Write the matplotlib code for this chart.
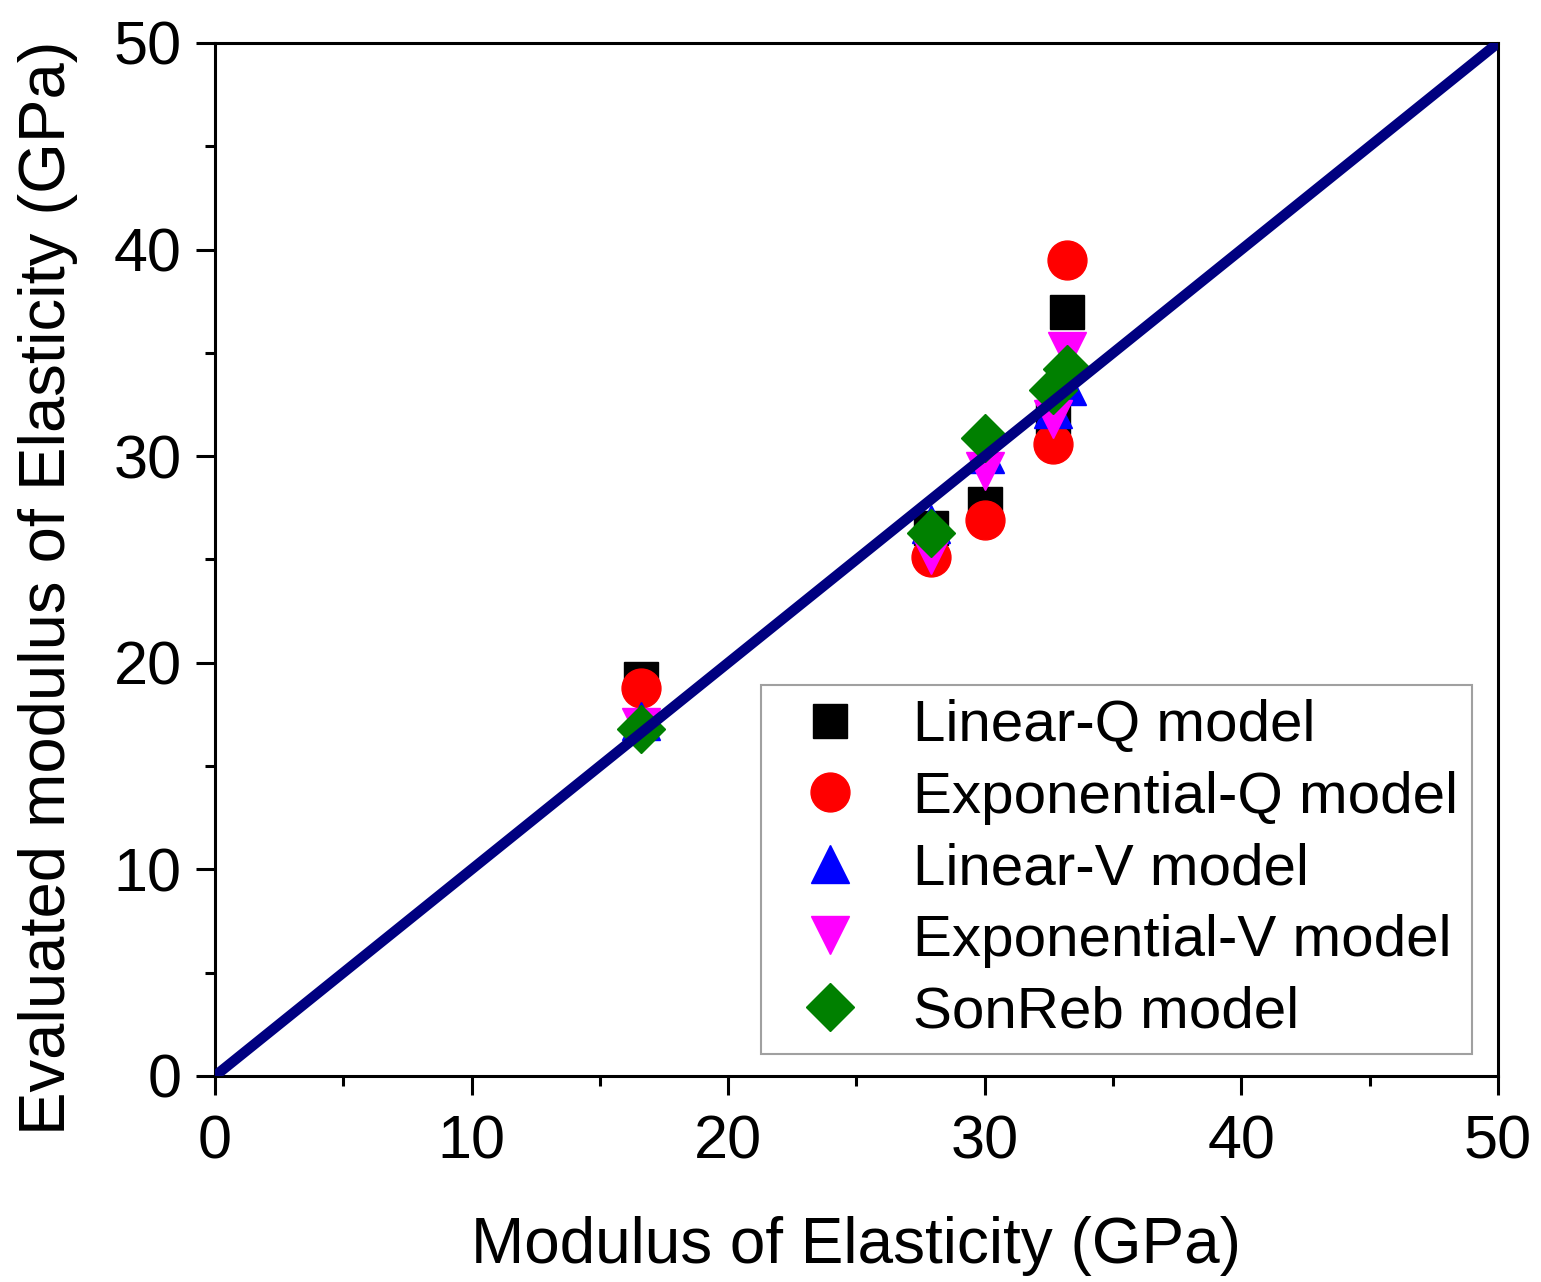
import numpy as np
import matplotlib.pyplot as plt
import matplotlib as mpl
from matplotlib.ticker import MultipleLocator

mpl.rcParams["font.family"] = ["Liberation Sans", "DejaVu Sans"]

# measured modulus (GPa)
measured = [16.6, 27.9, 30.0, 32.66, 33.2]

# evaluated modulus per model (GPa)
linear_q = [19.2, 26.5, 27.7, 31.9, 37.0]
exp_q = [18.8, 25.1, 26.9, 30.6, 39.5]
linear_v = [17.2, 26.7, 30.1, 32.3, 33.4]
exp_v = [16.9, 25.2, 29.3, 31.8, 35.1]
sonreb = [16.8, 26.3, 30.9, 33.2, 34.2]

labels = ["Linear-Q model", "Exponential-Q model", "Linear-V model",
          "Exponential-V model", "SonReb model"]

fig = plt.figure(figsize=(15.41, 12.82), dpi=100)
ax = fig.add_axes([0.1395, 0.1607, 0.8326, 0.8058])

ax.plot(measured, linear_q, "s", color="black", ms=25, ls="none",
        label=labels[0], zorder=3)
ax.plot(measured, exp_q, "o", color="red", ms=28, ls="none",
        label=labels[1], zorder=4)
ax.plot(measured, linear_v, "^", color="blue", ms=28, ls="none",
        label=labels[2], zorder=5)
ax.plot(measured, exp_v, "v", color="magenta", ms=28, ls="none",
        label=labels[3], zorder=6)
ax.plot(measured, sonreb, "D", color="green", ms=24, ls="none",
        label=labels[4], zorder=7)

# 1:1 line
ax.plot([0, 50], [0, 50], color="#000080", lw=7.5, zorder=10,
        solid_capstyle="butt")

ax.set_xlim(0, 50)
ax.set_ylim(0, 50)

ax.xaxis.set_major_locator(MultipleLocator(10))
ax.xaxis.set_minor_locator(MultipleLocator(5))
ax.yaxis.set_major_locator(MultipleLocator(10))
ax.yaxis.set_minor_locator(MultipleLocator(5))

ax.tick_params(which="both", direction="out", width=2.2, top=False,
               right=False, labelsize=44, colors="black")
ax.tick_params(which="major", length=14)
ax.tick_params(axis="x", which="major", pad=14)
ax.tick_params(axis="y", which="major", pad=10)
ax.tick_params(which="minor", length=7)

for sp in ax.spines.values():
    sp.set_linewidth(2.2)

ax.set_xlabel("Modulus of Elasticity (GPa)", fontsize=46, labelpad=32)
ax.set_ylabel("Evaluated modulus of Elasticity (GPa)", fontsize=47)
ax.yaxis.set_label_coords(-0.107, 0.473)

leg = ax.legend(loc="lower right", bbox_to_anchor=(0.98, 0.0213),
                fontsize=42, frameon=True, fancybox=False, numpoints=1,
                borderpad=0.25, labelspacing=0.3, handletextpad=0.5,
                handlelength=1.85, borderaxespad=0)
leg.get_frame().set_edgecolor("#888888")
leg.get_frame().set_linewidth(1.5)
leg.set_zorder(20)

fig.savefig("out.png", dpi=100)
